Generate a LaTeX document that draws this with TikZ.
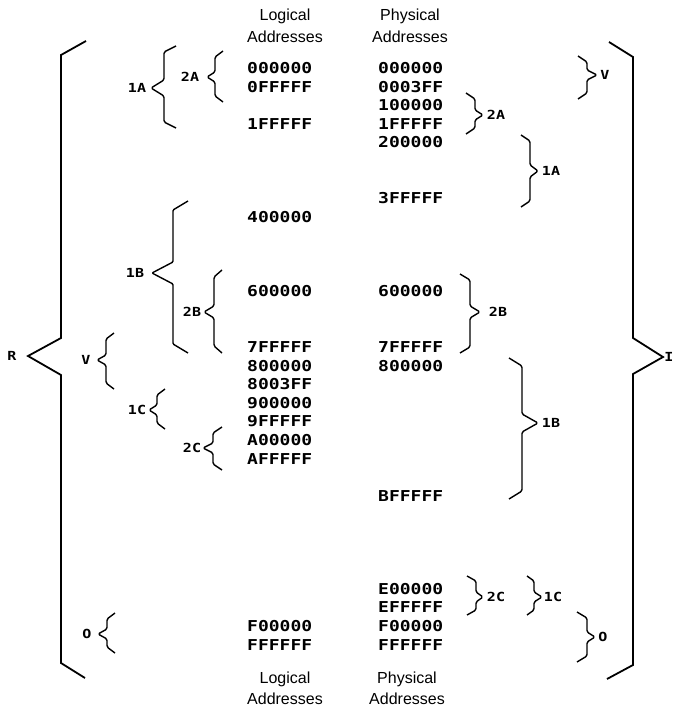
\documentclass[tikz,border=0pt]{standalone}
\usepackage{fontspec}
\setmainfont{Liberation Sans}
\newfontfamily\hexfont[FakeStretch=1.2]{DejaVu Sans Mono}
% brace: X, top, mid, bottom, depth, halfgap, hookdx, hookdy
\newcommand\Brc[9][]{%
  \draw[brc,#1] (#2+#8,#3) -- (#2,#3+#9) -- (#2,#4-#7) -- (#2-#6,#4) -- (#2,#4+#7) -- (#2,#5-#9) -- (#2+#8,#5);}
\begin{document}
\begin{tikzpicture}[x=1pt,y=-1pt,
  brc/.style={line width=1.4pt,rounded corners=1.5pt,line join=round},
  bigbrc/.style={line width=1.8pt,rounded corners=0pt,line join=miter},
  hex/.style={font=\hexfont\bfseries\fontsize{15}{15}\selectfont,inner sep=0pt,anchor=west},
  lab/.style={font=\hexfont\bfseries\fontsize{12.5}{12.5}\selectfont,inner sep=0pt},
  hdr/.style={font=\fontsize{16}{16}\selectfont,inner sep=0pt}]
\useasboundingbox (0,0) rectangle (674,709);
% headers and footers
\node[hdr] (hl1) at (285,16) {Logical};
\node[hdr] (hl2) at (285,37) {Addresses};
\node[hdr] (hp1) at (410,16) {Physical};
\node[hdr] (hp2) at (410,37) {Addresses};
\node[hdr] (fl1) at (285,679) {Logical};
\node[hdr] (fl2) at (285,699) {Addresses};
\node[hdr] (fp1) at (407,679) {Physical};
\node[hdr] (fp2) at (407,699) {Addresses};
% logical addresses
\node[hex] (l0)  at (247,68+18.6*0)  {000000};
\node[hex] (l1)  at (247,68+18.6*1)  {0FFFFF};
\node[hex] (l3)  at (247,68+18.6*3)  {1FFFFF};
\node[hex] (l8)  at (247,68+18.6*8)  {400000};
\node[hex] (l12) at (247,68+18.6*12) {600000};
\node[hex] (l15) at (247,68+18.6*15) {7FFFFF};
\node[hex] (l16) at (247,68+18.6*16) {800000};
\node[hex] (l17) at (247,68+18.6*17) {8003FF};
\node[hex] (l18) at (247,68+18.6*18) {900000};
\node[hex] (l19) at (247,68+18.6*19) {9FFFFF};
\node[hex] (l20) at (247,68+18.6*20) {A00000};
\node[hex] (l21) at (247,68+18.6*21) {AFFFFF};
\node[hex] (l30) at (247,68+18.6*30) {F00000};
\node[hex] (l31) at (247,68+18.6*31) {FFFFFF};
% physical addresses
\node[hex] (p0)  at (378,68+18.6*0)  {000000};
\node[hex] (p1)  at (378,68+18.6*1)  {0003FF};
\node[hex] (p2)  at (378,68+18.6*2)  {100000};
\node[hex] (p3)  at (378,68+18.6*3)  {1FFFFF};
\node[hex] (p4)  at (378,68+18.6*4)  {200000};
\node[hex] (p7)  at (378,68+18.6*7)  {3FFFFF};
\node[hex] (p12) at (378,68+18.6*12) {600000};
\node[hex] (p15) at (378,68+18.6*15) {7FFFFF};
\node[hex] (p16) at (378,68+18.6*16) {800000};
\node[hex] (p23) at (378,68+18.6*23) {BFFFFF};
\node[hex] (p28) at (378,68+18.6*28) {E00000};
\node[hex] (p29) at (378,68+18.6*29) {EFFFFF};
\node[hex] (p30) at (378,68+18.6*30) {F00000};
\node[hex] (p31) at (378,68+18.6*31) {FFFFFF};
% big braces
\draw[bigbrc] (86,41) -- (61,55) -- (61,338) -- (28,356) -- (61,375) -- (61,663) -- (85,678);
\draw[bigbrc] (609,42) -- (633,57) -- (633,338) -- (663,357) -- (633,374) -- (633,665) -- (607,679);
\node[lab] (R) at (12,356) {R};
\node[lab] (I) at (669,357) {I};
% left braces
\Brc{164}{46}{88}{128}{13}{8}{12}{6}
\Brc{215}{51}{77}{102}{8}{5}{8}{6}
\Brc[rounded corners=1pt]{173}{201}{273}{353}{21}{11}{15}{9}
\Brc{214}{270}{312}{353}{10}{6}{8}{7}
\Brc{106}{333}{360}{389}{9}{5}{8}{6}
\Brc{157}{389}{410}{429}{8}{5}{8}{6}
\Brc{213}{427}{448}{470}{10}{5}{9}{6}
\Brc{107}{613}{634}{653}{9}{5}{8}{6}
\node[lab] (L1A) at (137,88)  {1A};
\node[lab] (L2A) at (190,77)  {2A};
\node[lab] (L1B) at (135,273) {1B};
\node[lab] (L2B) at (192,312) {2B};
\node[lab] (LV)  at (86,360)  {V};
\node[lab] (L1C) at (137,410) {1C};
\node[lab] (L2C) at (192,448) {2C};
\node[lab] (LO)  at (87,634)  {O};
% right braces
\Brc{587}{56}{75}{99}{-10}{5}{-9}{6}
\Brc{475}{93}{115}{134}{-8}{5}{-9}{6}
\Brc{530}{135}{171}{207}{-8}{6}{-9}{6}
\Brc{470}{274}{312}{353}{-10}{6}{-10}{6}
\Brc{522}{358}{423}{499}{-16}{9}{-13}{8}
\Brc{476}{576}{597}{615}{-7}{5}{-9}{5}
\Brc{534}{576}{597}{615}{-8}{5}{-7}{5}
\Brc{587}{612}{637}{662}{-8}{5}{-10}{6}
\node[lab] (RV)  at (605,75)  {V};
\node[lab] (R2A) at (496,115) {2A};
\node[lab] (R1A) at (551,171) {1A};
\node[lab] (R2B) at (498,312) {2B};
\node[lab] (R1B) at (551,423) {1B};
\node[lab] (R2C) at (496,597) {2C};
\node[lab] (R1C) at (553,597) {1C};
\node[lab] (RO)  at (603,637) {O};
\end{tikzpicture}
\end{document}
